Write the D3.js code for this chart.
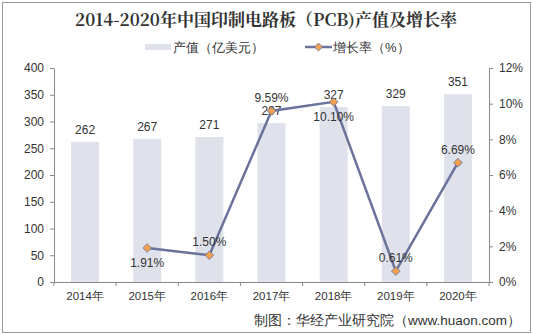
<!DOCTYPE html>
<html>
<head>
<meta charset="utf-8">
<script src="https://cdn.jsdelivr.net/npm/d3@7"></script>
<style>
  body { margin: 0; background: #fff; }
  text { font-family: "Liberation Sans", Arial, sans-serif; }
</style>
</head>
<body>
<div id="chart"></div>
<script>
const years = ["2014年", "2015年", "2016年", "2017年", "2018年", "2019年", "2020年"];
const output = [262, 267, 271, 297, 327, 329, 351];
const rate = [null, 1.91, 1.50, 9.59, 10.10, 0.61, 6.69];
const rateLabelPos = [null, "below", "above", "above", "below", "above", "above"];
const leftTicks = [0, 50, 100, 150, 200, 250, 300, 350, 400];
const rightTicks = [0, 2, 4, 6, 8, 10, 12];

const W = 533, H = 335;
const plot = { left: 54, right: 489, top: 68, bottom: 282 };

const svg = d3.select("#chart").append("svg")
  .attr("width", W).attr("height", H);

// outer frame
svg.append("rect")
  .attr("x", 2.5).attr("y", 2.5)
  .attr("width", W - 5).attr("height", H - 5)
  .attr("fill", "#fff").attr("stroke", "#999").attr("stroke-width", 1);

// title
svg.append("text")
  .attr("x", 266).attr("y", 26)
  .attr("text-anchor", "middle")
  .style("font-family", "'Noto Serif CJK SC', 'DejaVu Serif', serif")
  .style("font-weight", "bold")
  .style("font-size", "17px")
  .attr("fill", "#333")
  .text("2014-2020年中国印制电路板（PCB)产值及增长率");

// legend
const leg = svg.append("g");
leg.append("rect").attr("x", 145).attr("y", 44).attr("width", 26).attr("height", 6).attr("fill", "#dfe2ea");
leg.append("text").attr("x", 173).attr("y", 52).style("font-size", "13px").attr("fill", "#333").text("产值（亿美元）");
leg.append("line").attr("x1", 305).attr("x2", 332).attr("y1", 47).attr("y2", 47)
  .attr("stroke", "#6b739c").attr("stroke-width", 2.5);
leg.append("path").attr("d", d3.symbol(d3.symbolDiamond2, 40)())
  .attr("transform", "translate(318.5,47)")
  .attr("fill", "#f0a050").attr("stroke", "#6b739c").attr("stroke-width", 0.8);
leg.append("text").attr("x", 333).attr("y", 52).style("font-size", "13px").attr("fill", "#333").text("增长率（%）");

// scales
const x = d3.scaleBand().domain(years).range([plot.left, plot.right]);
const yL = d3.scaleLinear().domain([0, 400]).range([plot.bottom, plot.top]);
const yR = d3.scaleLinear().domain([0, 12]).range([plot.bottom, plot.top]);
const barW = 28;

// bars
svg.selectAll("rect.bar")
  .data(output)
  .enter().append("rect")
  .attr("class", "bar")
  .attr("x", (d, i) => x(years[i]) + x.bandwidth() / 2 - barW / 2)
  .attr("y", d => yL(d))
  .attr("width", barW)
  .attr("height", d => yL(0) - yL(d))
  .attr("fill", "#dfe2ea");

// bar labels
svg.selectAll("text.barlab")
  .data(output)
  .enter().append("text")
  .attr("class", "barlab")
  .attr("x", (d, i) => x(years[i]) + x.bandwidth() / 2)
  .attr("y", d => yL(d) - 8)
  .attr("text-anchor", "middle")
  .style("font-size", "12px")
  .attr("fill", "#333")
  .text(d => d);

// axes
const axisColor = "#888";
const gx = svg.append("g")
  .attr("transform", `translate(0,${plot.bottom})`)
  .call(d3.axisBottom(x).tickSize(0).tickPadding(10));
gx.select(".domain").attr("stroke", axisColor);
gx.selectAll("text").style("font-size", "11.5px").attr("fill", "#333");
// tick marks at category boundaries
gx.selectAll("line.bound")
  .data(d3.range(years.length + 1))
  .enter().append("line")
  .attr("class", "bound")
  .attr("x1", i => plot.left + i * x.bandwidth())
  .attr("x2", i => plot.left + i * x.bandwidth())
  .attr("y1", 0).attr("y2", 4)
  .attr("stroke", axisColor);

const gl = svg.append("g")
  .attr("transform", `translate(${plot.left},0)`)
  .call(d3.axisLeft(yL).tickValues(leftTicks).tickSize(4).tickPadding(6).tickSizeOuter(0));
gl.selectAll("path, line").attr("stroke", axisColor);
gl.selectAll("text").style("font-size", "12px").attr("fill", "#333");

const gr = svg.append("g")
  .attr("transform", `translate(${plot.right},0)`)
  .call(d3.axisRight(yR).tickValues(rightTicks).tickSize(4).tickPadding(6).tickSizeOuter(0)
    .tickFormat(d => d + "%"));
gr.selectAll("path, line").attr("stroke", axisColor);
gr.selectAll("text").style("font-size", "12px").attr("fill", "#333");

// line
const pts = rate.map((r, i) => ({ r, i, pos: rateLabelPos[i] })).filter(d => d.r !== null);
const cx = d => x(years[d.i]) + x.bandwidth() / 2;
svg.append("path")
  .datum(pts)
  .attr("fill", "none")
  .attr("stroke", "#6b739c")
  .attr("stroke-width", 2.5)
  .attr("d", d3.line().x(cx).y(d => yR(d.r)));

svg.selectAll("path.mk")
  .data(pts)
  .enter().append("path")
  .attr("class", "mk")
  .attr("d", d3.symbol(d3.symbolDiamond2, 48)())
  .attr("transform", d => `translate(${cx(d)},${yR(d.r)})`)
  .attr("fill", "#f0a050")
  .attr("stroke", "#6b739c")
  .attr("stroke-width", 0.8);

svg.selectAll("text.ratelab")
  .data(pts)
  .enter().append("text")
  .attr("class", "ratelab")
  .attr("x", cx)
  .attr("y", d => d.pos === "above" ? yR(d.r) - 9 : yR(d.r) + 19)
  .attr("text-anchor", "middle")
  .style("font-size", "12px")
  .attr("fill", "#333")
  .text(d => d.r.toFixed(2) + "%");

// source
svg.append("text")
  .attr("x", 254).attr("y", 325)
  .style("font-size", "13.5px")
  .attr("fill", "#333")
  .text("制图：华经产业研究院（www.huaon.com）");
</script>
</body>
</html>
